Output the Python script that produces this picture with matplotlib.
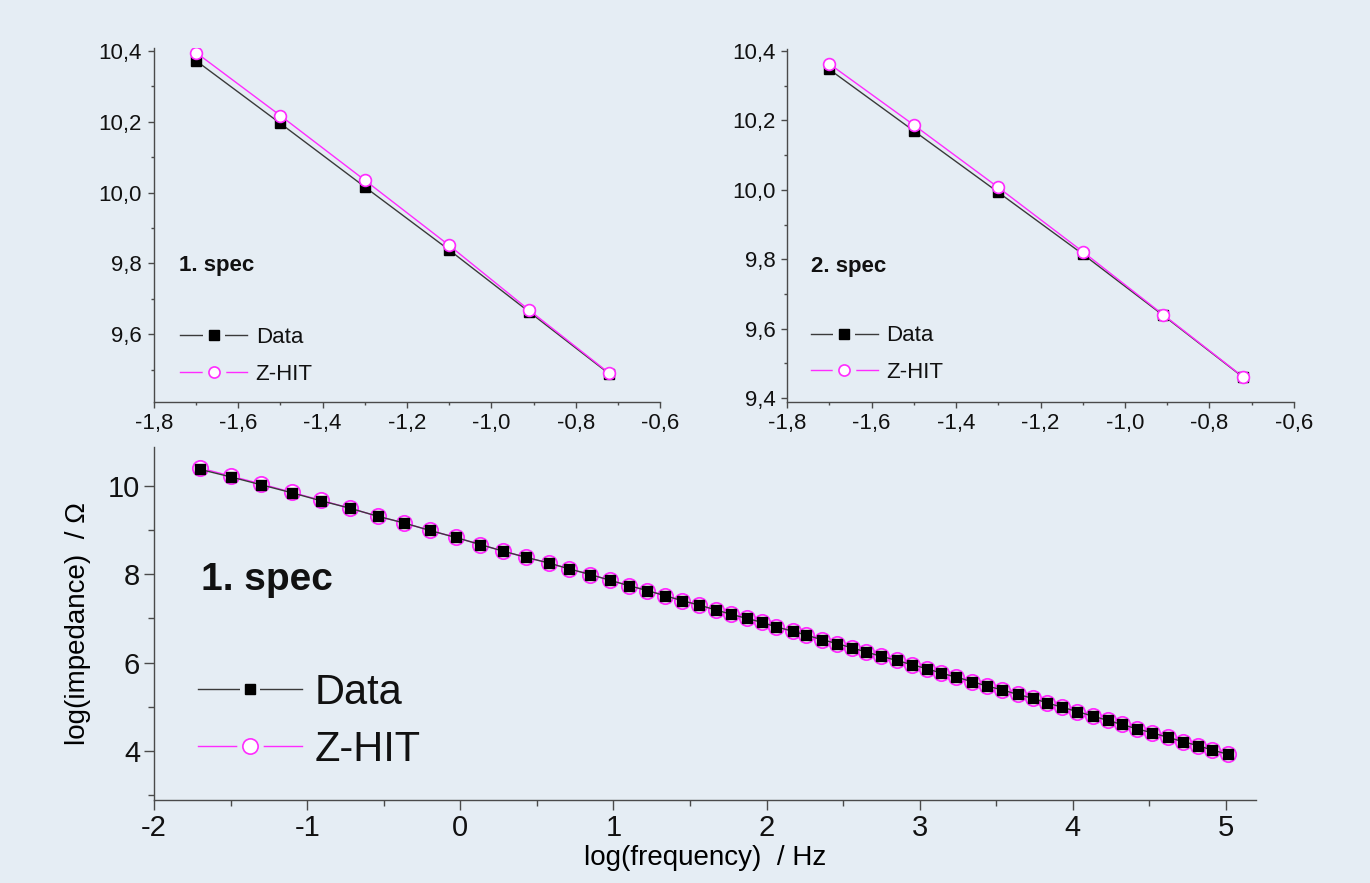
"""Z-HIT vs measured impedance: two zoomed low-frequency panels plus the full spectrum."""

import matplotlib
matplotlib.use("Agg")
import matplotlib.pyplot as plt
from matplotlib.lines import Line2D
from matplotlib.legend_handler import HandlerTuple
from matplotlib.ticker import MultipleLocator, FuncFormatter

# ---------- colours ----------
BG = "#E5EDF4"
INK = "#111111"
AXC = "#4A4A4A"
DATA_C = "#3A3A3A"
ZHIT_C = "#FF2BFF"

plt.rcParams.update({
    "font.family": ["Liberation Sans", "DejaVu Sans"],
    "axes.unicode_minus": False,
    "figure.facecolor": BG,
    "axes.facecolor": BG,
    "savefig.facecolor": BG,
    "text.color": INK,
})

# ---------- data ----------
# low-frequency zoom, spectrum 1
spec1_x = [-1.70, -1.50, -1.30, -1.10, -0.91, -0.72]
spec1_data = [10.372, 10.195, 10.016, 9.838, 9.663, 9.488]
spec1_zhit = [10.395, 10.217, 10.035, 9.851, 9.668, 9.490]

# low-frequency zoom, spectrum 2
spec2_x = [-1.70, -1.50, -1.30, -1.10, -0.91, -0.72]
spec2_data = [10.347, 10.170, 9.993, 9.815, 9.639, 9.460]
spec2_zhit = [10.363, 10.187, 10.007, 9.822, 9.641, 9.461]

# full spectrum 1
full_x = [-1.70, -1.50, -1.30, -1.10, -0.91, -0.72, -0.54, -0.37, -0.20, -0.03,
          0.13, 0.28, 0.43, 0.58, 0.71, 0.85, 0.98, 1.10, 1.22, 1.34,
          1.45, 1.56, 1.67, 1.77, 1.87, 1.97, 2.06, 2.17, 2.26, 2.36,
          2.46, 2.56, 2.65, 2.75, 2.85, 2.95, 3.05, 3.14, 3.24, 3.34,
          3.44, 3.54, 3.64, 3.74, 3.83, 3.93, 4.03, 4.13, 4.23, 4.32,
          4.42, 4.52, 4.62, 4.72, 4.82, 4.91, 5.01]
full_data = [10.37, 10.20, 10.02, 9.84, 9.66, 9.49, 9.31, 9.16, 8.99, 8.83,
             8.67, 8.52, 8.38, 8.25, 8.12, 7.99, 7.86, 7.74, 7.63, 7.51,
             7.40, 7.30, 7.19, 7.09, 7.00, 6.91, 6.81, 6.71, 6.62, 6.52,
             6.43, 6.33, 6.24, 6.14, 6.05, 5.95, 5.86, 5.76, 5.67, 5.57,
             5.47, 5.38, 5.28, 5.19, 5.09, 4.99, 4.89, 4.79, 4.69, 4.60,
             4.50, 4.41, 4.31, 4.21, 4.12, 4.02, 3.93]
full_zhit = [10.40, 10.22, 10.04, 9.85, 9.67, 9.49, 9.31, 9.16, 8.99, 8.83,
             8.67, 8.52, 8.38, 8.25, 8.12, 7.99, 7.86, 7.74, 7.63, 7.51,
             7.40, 7.30, 7.19, 7.09, 7.00, 6.91, 6.81, 6.71, 6.62, 6.52,
             6.43, 6.33, 6.24, 6.14, 6.05, 5.95, 5.86, 5.76, 5.67, 5.57,
             5.47, 5.38, 5.28, 5.19, 5.09, 4.99, 4.89, 4.79, 4.69, 4.60,
             4.50, 4.41, 4.31, 4.21, 4.12, 4.02, 3.93]


def comma(v, _pos):
    return f"{v:.1f}".replace(".", ",")


def style(ax, fs, major_len, minor_len, pad=3):
    for side in ("top", "right"):
        ax.spines[side].set_visible(False)
    for side in ("left", "bottom"):
        ax.spines[side].set_color(AXC)
        ax.spines[side].set_linewidth(1.0)
    ax.tick_params(which="major", direction="out", length=major_len, width=1.0,
                   color=AXC, labelsize=fs, labelcolor=INK, pad=pad)
    ax.tick_params(which="minor", direction="out", length=minor_len, width=1.0,
                   color=AXC)


def legend_handles(ms_sq, ms_ci, gap):
    # line with a background-coloured marker underneath cuts the gap around the symbol
    data_line = Line2D([], [], color=DATA_C, lw=1.0, marker="s", ms=ms_sq + gap,
                       mfc=BG, mec=BG, mew=0)
    data_mark = Line2D([], [], ls="none", marker="s", ms=ms_sq, mfc="black", mec="black")
    zhit_line = Line2D([], [], color=ZHIT_C, lw=1.0, marker="o", ms=ms_ci + gap,
                       mfc=BG, mec=BG, mew=0)
    zhit_mark = Line2D([], [], ls="none", marker="o", ms=ms_ci, mfc="white",
                       mec=ZHIT_C, mew=1.2)
    return [(data_line, data_mark), (zhit_line, zhit_mark)]


fig = plt.figure(figsize=(13.7, 8.83), dpi=100)

# ---------- top panels ----------
tops = [
    (fig.add_axes([0.1123, 0.5451, 0.3695, 0.4002]), spec1_x, spec1_data, spec1_zhit,
     "1. spec", (9.41, 10.407), (0.052, 0.13), 0.05),
    (fig.add_axes([0.5745, 0.5451, 0.3700, 0.3991]), spec2_x, spec2_data, spec2_zhit,
     "2. spec", (9.39, 10.405), (0.047, 0.135), 0.047),
]
for ax, x, yd, yz, tag, ylim, leg_at, tag_x in tops:
    style(ax, 16, 4.5, 2.5, pad=4)
    ax.plot(x, yd, color=DATA_C, lw=1.0, marker="s", ms=7, mfc="black", mec="black",
            zorder=3)
    ax.plot(x, yz, color=ZHIT_C, lw=1.0, marker="o", ms=8.5, mfc="white", mec=ZHIT_C,
            mew=1.2, zorder=4)
    ax.set_xlim(-1.8, -0.6)
    ax.set_ylim(*ylim)
    ax.xaxis.set_major_locator(MultipleLocator(0.2))
    ax.xaxis.set_minor_locator(MultipleLocator(0.1))
    ax.yaxis.set_major_locator(MultipleLocator(0.2))
    ax.yaxis.set_minor_locator(MultipleLocator(0.1))
    ax.xaxis.set_major_formatter(FuncFormatter(comma))
    ax.yaxis.set_major_formatter(FuncFormatter(comma))
    ax.text(tag_x, 0.385, tag, transform=ax.transAxes, fontsize=16,
            fontweight="bold", ha="left", va="center")
    ax.legend(legend_handles(7, 8, 9), ["Data", "Z-HIT"],
              handler_map={tuple: HandlerTuple(ndivide=1, pad=0)},
              loc="center left", bbox_to_anchor=leg_at, frameon=False,
              fontsize=16, handlelength=3.0, handletextpad=0.4,
              labelspacing=0.7, borderpad=0, borderaxespad=0)

# ---------- bottom panel: full spectrum ----------
ax = fig.add_axes([0.1124, 0.0940, 0.8044, 0.4001])
style(ax, 21, 7, 4)
ax.plot(full_x, full_zhit, color=ZHIT_C, lw=1.0, marker="o", ms=11, mfc="white",
        mec=ZHIT_C, mew=1.3, zorder=3)
ax.plot(full_x, full_data, color=DATA_C, lw=1.0, marker="s", ms=6.5, mfc="black",
        mec="black", zorder=4)
ax.set_xlim(-2, 5.196)
ax.set_ylim(2.892, 10.882)
ax.xaxis.set_major_locator(MultipleLocator(1))
ax.xaxis.set_minor_locator(MultipleLocator(0.5))
ax.yaxis.set_major_locator(MultipleLocator(2))
ax.yaxis.set_minor_locator(MultipleLocator(1))
ax.set_xlabel("log(frequency)  / Hz", fontsize=20, labelpad=2)
ax.set_ylabel("log(impedance)  / \u03a9", fontsize=20, labelpad=12)
ax.text(0.043, 0.623, "1. spec", transform=ax.transAxes, fontsize=28,
        fontweight="bold", ha="left", va="center")
ax.legend(legend_handles(6.5, 11, 8), ["Data", "Z-HIT"],
          handler_map={tuple: HandlerTuple(ndivide=1, pad=0)},
          loc="center left", bbox_to_anchor=(0.04, 0.223), frameon=False,
          fontsize=30, handlelength=2.5, handletextpad=0.3,
          labelspacing=0.4, borderpad=0, borderaxespad=0)

fig.savefig("out.png", dpi=100, facecolor=BG)
